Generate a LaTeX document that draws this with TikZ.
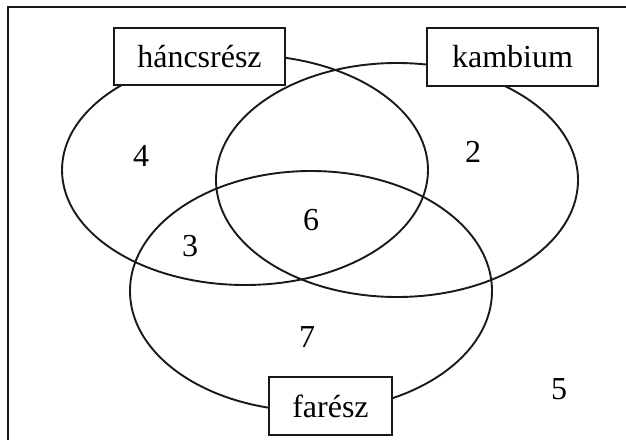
\documentclass[tikz,border=0pt]{standalone}
\usepackage{fontspec}
\setmainfont{Liberation Serif}
\begin{document}
\begin{tikzpicture}[x=1pt,y=-1pt,
  lbl/.style={draw=black!90,line width=1.9pt,fill=white,inner sep=0pt,
    font=\fontsize{32}{36}\selectfont},
  num/.style={inner sep=0pt,font=\fontsize{32}{36}\selectfont},
  set/.style={draw=black!90,line width=1.9pt}]
\useasboundingbox (0,0) rectangle (626,439);
\draw[set] (8,445) -- (8,7) -- (640,7);
% sets
\draw[set] (245,170) ellipse [x radius=183,y radius=115];
\draw[set] (397,180) ellipse [x radius=181,y radius=117];
\draw[set] (311,291) ellipse [x radius=181,y radius=120];
% labels
\node[lbl,minimum width=171pt,minimum height=57pt] (hancs) at (199.5,56.5) {háncsrész};
\node[lbl,minimum width=171pt,minimum height=58pt] (kamb) at (512.5,57) {kambium};
\node[lbl,minimum width=123pt,minimum height=58pt] (fa) at (330.5,406) {farész};
% numbers
\node[num] (n4) at (141,156) {4};
\node[num] (n2) at (473,152) {2};
\node[num] (n6) at (311,220) {6};
\node[num] (n3) at (190,246) {3};
\node[num] (n7) at (307,337) {7};
\node[num] (n5) at (559,389) {5};
\end{tikzpicture}
\end{document}
